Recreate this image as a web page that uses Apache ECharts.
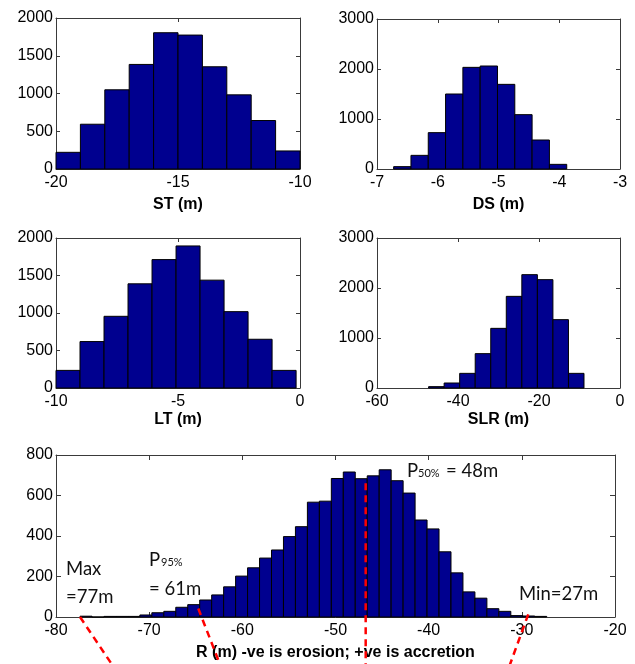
<!DOCTYPE html>
<html>
<head>
<meta charset="utf-8">
<script src="https://cdn.jsdelivr.net/npm/echarts@6/dist/echarts.min.js"></script>
<style>
html,body{margin:0;padding:0;background:#fff;}
#chart{width:635px;height:664px;}
</style>
</head>
<body>
<div id="chart"></div>
<script>
// ---- data ----
const stBinStart = -20, stBinWidth = 1;
const stCounts = [221, 593, 1049, 1385, 1805, 1774, 1354, 982, 642, 239];

const dsBinStart = -6.726, dsBinWidth = 0.2849;
const dsCounts = [47, 273, 727, 1500, 2033, 2060, 1693, 1087, 580, 93];

const ltBinStart = -10, ltBinWidth = 0.984;
const ltCounts = [235, 619, 956, 1389, 1712, 1894, 1438, 1018, 650, 235];

const slrBinStart = -47.26, slrBinWidth = 3.837;
const slrCounts = [27, 100, 293, 687, 1193, 1833, 2267, 2167, 1367, 293];

const rBinStart = -77.42, rBinWidth = 1.2844;
const rCounts = [4, 0, 3, 3, 3, 10, 21, 28, 48, 61, 84, 109, 149, 202, 243, 291, 331, 397, 446, 567,
                 572, 684, 716, 683, 697, 727, 673, 612, 479, 435, 322, 218, 124, 93, 41, 28, 7, 5, 3];

const axisNames = ['ST (m)', 'DS (m)', 'LT (m)', 'SLR (m)', 'R (m) -ve is erosion; +ve is accretion'];
const xRanges = [[-20, -10, 5], [-7, -3, 1], [-10, 0, 5], [-60, 0, 20], [-80, -20, 10]];
const yRanges = [[0, 2000, 500], [0, 3000, 1000], [0, 2000, 500], [0, 3000, 1000], [0, 800, 200]];

// annotation lines on R panel: [x, count]
const maxLine = [[-77.42, 0], [-74.0, -234]];
const p95Line = [[-64.73, 42], [-62.4, -234]];
const p50Line = [[-46.76, 661], [-46.76, -234]];
const minLine = [[-29.31, 13], [-31.27, -234]];

// ---- layout ----
const grids = [
  {left: 56, top: 18, width: 244, height: 151},
  {left: 377, top: 19, width: 243, height: 150},
  {left: 56, top: 238, width: 244, height: 150},
  {left: 377, top: 238, width: 243, height: 150},
  {left: 56, top: 455, width: 559, height: 162}
];
const nameGaps = [28, 28, 24, 24, 28];
const tickLens = [4, 4, 4, 4, 5];

const hist = [
  [stBinStart, stBinWidth, stCounts],
  [dsBinStart, dsBinWidth, dsCounts],
  [ltBinStart, ltBinWidth, ltCounts],
  [slrBinStart, slrBinWidth, slrCounts],
  [rBinStart, rBinWidth, rCounts]
];

const FONT = '"Liberation Sans", Arial, sans-serif';
const AX = '#3a3a3a';
const plain = v => String(v);
const option = {animation: false, grid: [], xAxis: [], yAxis: [], series: [], graphic: []};

hist.forEach((h, i) => {
  option.grid.push(Object.assign({containLabel: false}, grids[i]));
  const [xmin, xmax, xint] = xRanges[i];
  const [ymin, ymax, yint] = yRanges[i];
  const common = {
    type: 'value', gridIndex: i, splitLine: {show: false},
    axisLine: {show: true, onZero: false, lineStyle: {color: AX, width: 1}},
    axisTick: {show: true, inside: true, length: tickLens[i], lineStyle: {color: AX}}
  };
  option.xAxis.push(Object.assign({}, common, {
    min: xmin, max: xmax, interval: xint, position: 'bottom',
    name: axisNames[i], nameLocation: 'middle', nameGap: nameGaps[i],
    nameTextStyle: {fontFamily: FONT, fontWeight: 'bold', fontSize: 16, color: '#000'},
    axisLabel: {margin: 6, fontFamily: FONT, fontSize: 16, color: '#000', formatter: plain}
  }));
  option.xAxis.push(Object.assign({}, common, {
    min: xmin, max: xmax, interval: xint, position: 'top', axisLabel: {show: false}
  }));
  option.yAxis.push(Object.assign({}, common, {
    min: ymin, max: ymax, interval: yint, position: 'left',
    axisLabel: {margin: 3, fontFamily: FONT, fontSize: 16, color: '#000', formatter: plain}
  }));
  option.yAxis.push(Object.assign({}, common, {
    min: ymin, max: ymax, interval: yint, position: 'right', axisLabel: {show: false}
  }));
  const [start, w, counts] = h;
  option.series.push({
    type: 'custom', xAxisIndex: 2 * i, yAxisIndex: 2 * i,
    encode: {x: [0, 1], y: 2},
    data: counts.map((c, k) => [start + k * w, start + (k + 1) * w, c]),
    renderItem: (params, api) => {
      const p0 = api.coord([api.value(0), 0]);
      const p1 = api.coord([api.value(1), api.value(2)]);
      return {
        type: 'rect',
        shape: {x: p0[0], y: p1[1], width: p1[0] - p0[0], height: p0[1] - p1[1]},
        style: {fill: '#00008F', stroke: '#000', lineWidth: 1}
      };
    }
  });
});

[maxLine, p95Line, p50Line, minLine].forEach(l => {
  option.series.push({
    type: 'line', xAxisIndex: 8, yAxisIndex: 8, data: l, clip: false,
    symbol: 'none', silent: true, z: 10,
    lineStyle: {color: '#ff0000', width: 2.5, type: [7, 5]}
  });
});

const AF = 'Lato, "Open Sans", sans-serif';
function txt(x, y, s, size) {
  return {type: 'text', x: x, y: y, z: 20,
    style: {text: s, font: size + 'px ' + AF, fill: '#111', verticalAlign: 'top'}};
}
option.graphic = [
  txt(66, 560, 'Max', 18.5),
  txt(66, 588, '=77m', 18.5),
  txt(149, 551, 'P', 18.5),
  txt(161, 557, '95%', 11),
  txt(149, 580, '= 61m', 18.5),
  txt(407, 462, 'P', 18.5),
  txt(418, 468, '50%', 11),
  txt(446, 462, '= 48m', 18.5),
  txt(519, 585, 'Min=27m', 18.5)
];

const chart = echarts.init(document.getElementById('chart'), null, {renderer: 'canvas'});
chart.setOption(option);
</script>
</body>
</html>
